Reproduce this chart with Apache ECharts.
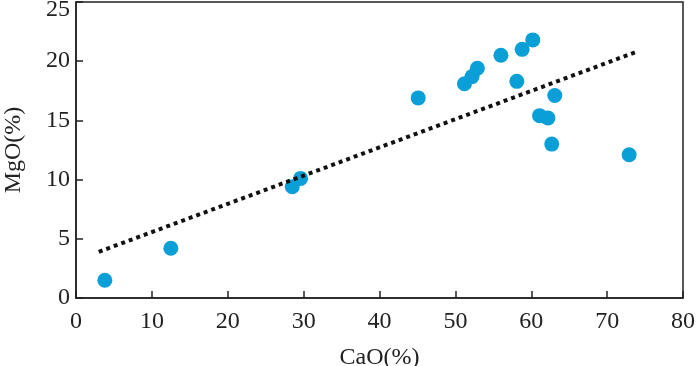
<!DOCTYPE html>
<html><head><meta charset="utf-8">
<script src="https://cdn.jsdelivr.net/npm/echarts@6/dist/echarts.min.js"></script>
<style>html,body{margin:0;padding:0;background:#fff}#c{width:700px;height:366px}</style>
</head><body><div id="c"></div>
<script>
const caO = [3.8, 12.5, 28.5, 29.6, 45.1, 51.2, 52.2, 52.9, 56.0, 58.8, 60.2, 58.1, 63.1, 61.1, 62.2, 62.7, 72.9];
const mgO = [1.5, 4.2, 9.4, 10.1, 16.9, 18.1, 18.7, 19.4, 20.5, 21.0, 21.8, 18.3, 17.1, 15.4, 15.2, 13.0, 12.1];
const trendX = [3.0, 73.9];
const trendY = [3.9, 20.8];
const xTicks = [0, 10, 20, 30, 40, 50, 60, 70, 80];
const yTicks = [0, 5, 10, 15, 20, 25];

const font = '"Liberation Serif", "Times New Roman", serif';
const yMax = yTicks[yTicks.length - 1];
const chart = echarts.init(document.getElementById('c'));
chart.setOption({
  animation: false,
  grid: { left: 76, right: 17, top: 2, bottom: 68, containLabel: false, outerBoundsMode: 'none', show: true, borderColor: '#222', borderWidth: 1.5, backgroundColor: 'transparent' },
  xAxis: {
    type: 'value', min: xTicks[0], max: xTicks[xTicks.length - 1], interval: 10,
    name: 'CaO(%)', nameLocation: 'middle', nameGap: 48,
    nameTextStyle: { fontFamily: font, fontSize: 24, color: '#222' },
    axisLine: { lineStyle: { color: '#222', width: 1.5 } },
    axisTick: { inside: true, length: 7, lineStyle: { color: '#222', width: 1.5 } },
    axisLabel: { fontFamily: font, fontSize: 24, color: '#222', margin: 12 },
    splitLine: { show: false }
  },
  yAxis: {
    type: 'value', min: yTicks[0], max: yMax, interval: 5,
    name: 'MgO(%)', nameLocation: 'middle', nameGap: 50, nameRotate: 90,
    nameTextStyle: { fontFamily: font, fontSize: 24, color: '#222' },
    axisLine: { lineStyle: { color: '#222', width: 1.5 } },
    axisTick: { inside: true, length: 7, lineStyle: { color: '#222', width: 1.5 } },
    axisLabel: {
      fontFamily: font, fontSize: 24, color: '#222', margin: 6,
      formatter: v => v === yMax ? '{t|' + v + '}' : String(v),
      rich: { t: { fontFamily: font, fontSize: 24, color: '#222', padding: [16, 0, 0, 0] } }
    },
    splitLine: { show: false }
  },
  series: [
    {
      type: 'line',
      data: trendX.map((x, i) => [x, trendY[i]]),
      symbol: 'none',
      lineStyle: { color: '#111', width: 4, type: [4, 4], cap: 'butt' },
      z: 3
    },
    {
      type: 'scatter',
      data: caO.map((x, i) => [x, mgO[i]]),
      symbolSize: 15,
      itemStyle: { color: '#0a9fd6', opacity: 1 },
      z: 2
    }
  ]
});
</script></body></html>
